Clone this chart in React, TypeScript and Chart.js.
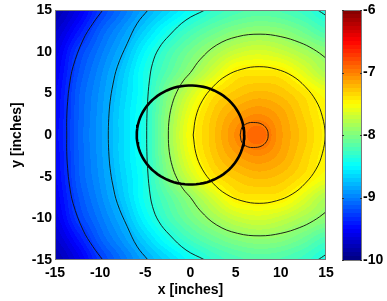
import React, { useEffect, useRef } from "react";
import { Chart, registerables } from "chart.js";

Chart.register(...registerables);

// ---- field grid (log10 values), x across, y top to bottom ----
const gridX = [-15, -12.5, -10, -7.5, -5, -2.5, 0, 2.5, 5, 7.5, 10, 12.5, 15];
const gridY = [15, 12.5, 10, 7.5, 5, 2.5, 0, -2.5, -5, -7.5, -10, -12.5, -15];

const rowP150 = [-9.81, -9.6, -9.28, -9.05, -8.83, -8.65, -8.47, -8.31, -8.22, -8.17, -8.2, -8.28, -8.4];
const rowP125 = [-9.7, -9.44, -9.13, -8.91, -8.67, -8.43, -8.24, -8.1, -7.99, -7.94, -7.97, -8.08, -8.22];
const rowP100 = [-9.6, -9.27, -9.03, -8.8, -8.5, -8.25, -8.05, -7.87, -7.72, -7.66, -7.72, -7.84, -7.95];
const rowP075 = [-9.55, -9.2, -8.96, -8.71, -8.41, -8.16, -7.92, -7.67, -7.44, -7.41, -7.43, -7.61, -7.82];
const rowP050 = [-9.51, -9.15, -8.92, -8.67, -8.4, -8.01, -7.68, -7.41, -7.29, -7.23, -7.27, -7.39, -7.54];
const rowP025 = [-9.49, -9.14, -8.9, -8.64, -8.37, -7.94, -7.55, -7.3, -7.14, -7.06, -7.15, -7.32, -7.48];
const rowZero = [-9.47, -9.13, -8.89, -8.64, -8.37, -7.91, -7.5, -7.27, -7.05, -6.88, -7.11, -7.28, -7.46];
const rowM025 = [-9.49, -9.14, -8.9, -8.64, -8.37, -7.94, -7.55, -7.3, -7.14, -7.06, -7.15, -7.32, -7.48];
const rowM050 = [-9.51, -9.15, -8.92, -8.67, -8.4, -8.01, -7.68, -7.41, -7.29, -7.23, -7.27, -7.39, -7.54];
const rowM075 = [-9.55, -9.2, -8.96, -8.71, -8.41, -8.16, -7.92, -7.67, -7.44, -7.41, -7.43, -7.61, -7.82];
const rowM100 = [-9.6, -9.27, -9.03, -8.8, -8.5, -8.25, -8.05, -7.87, -7.72, -7.66, -7.72, -7.84, -7.95];
const rowM125 = [-9.7, -9.44, -9.13, -8.91, -8.67, -8.43, -8.24, -8.1, -7.99, -7.94, -7.97, -8.08, -8.22];
const rowM150 = [-9.81, -9.6, -9.28, -9.05, -8.83, -8.65, -8.47, -8.31, -8.22, -8.17, -8.2, -8.28, -8.4];

const fieldGrid = [rowP150, rowP125, rowP100, rowP075, rowP050, rowP025, rowZero, rowM025, rowM050, rowM075, rowM100, rowM125, rowM150];

// ---- colour scale ----
const colorbarMin = -10;
const colorbarMax = -6;
const axisMin = -15;
const axisMax = 15;

// ---- contour lines (x, y in inches) ----
const contourLevel1: number[][] = [[5.5, 0], [5.7, 0.9], [6.3, 1.4], [7.0, 1.5], [7.8, 1.35], [8.4, 0.8], [8.6, 0], [8.4, -0.8], [7.8, -1.35], [7.0, -1.5], [6.3, -1.4], [5.7, -0.9], [5.5, 0]];
const contourLevel2: number[][] = [[0.3, 0], [0.6, 2.2], [1.3, 4.1], [2.5, 5.8], [3.95, 7.1], [5.7, 7.9], [7.6, 8.2], [9.5, 7.9], [11.25, 7.1], [12.7, 5.8], [13.9, 4.1], [14.6, 2.2], [14.9, 0], [14.6, -2.2], [13.9, -4.1], [12.7, -5.8], [11.25, -7.1], [9.5, -7.9], [7.6, -8.2], [5.7, -7.9], [3.95, -7.1], [2.5, -5.8], [1.3, -4.1], [0.6, -2.2], [0.3, 0]];
const contourLevel3: number[][] = [[15.8, 8.4], [14.9, 9.3], [13.6, 10.3], [12.1, 11.1], [10.0, 11.8], [7.7, 12.1], [5.2, 11.8], [2.9, 10.8], [1.1, 9.1], [0, 7.5], [-0.8, 6.5], [-1.5, 5.2], [-2.0, 3.8], [-2.35, 2.0], [-2.45, 0], [-2.35, -2.0], [-2.0, -3.8], [-1.5, -5.2], [-0.8, -6.5], [0, -7.5], [1.1, -9.1], [2.9, -10.8], [5.2, -11.8], [7.7, -12.1], [10.0, -11.8], [12.1, -11.1], [13.6, -10.3], [14.9, -9.3], [15.8, -8.4]];
const contourLevel4: number[][] = [[2.2, 15.4], [1.6, 15], [-0.5, 13.8], [-2.3, 12.0], [-3.5, 10.4], [-4.2, 8.6], [-4.55, 6.5], [-4.75, 4.0], [-4.83, 2.0], [-4.85, 0], [-4.83, -2.0], [-4.75, -4.0], [-4.55, -6.5], [-4.2, -8.6], [-3.5, -10.4], [-2.3, -12.0], [-0.5, -13.8], [1.6, -15], [2.2, -15.4]];
const contourLevel4Top: number[][] = [[13.6, 15.3], [14.5, 14.7], [15.3, 14.1]];
const contourLevel4Bottom: number[][] = [[13.6, -15.3], [14.5, -14.7], [15.3, -14.1]];
const contourLevel5: number[][] = [[-4.4, 15.4], [-4.7, 15], [-5.9, 13.4], [-7.0, 11.0], [-8.1, 8.2], [-8.6, 6.0], [-8.9, 4.0], [-9.05, 2.0], [-9.1, 0], [-9.05, -2.0], [-8.9, -4.0], [-8.6, -6.0], [-8.1, -8.2], [-7.0, -11.0], [-5.9, -13.4], [-4.7, -15], [-4.4, -15.4]];
const contourLevel6: number[][] = [[-9.4, 15.4], [-9.7, 15], [-10.8, 13.4], [-11.9, 11.4], [-13.0, 8.2], [-13.4, 6.0], [-13.6, 4.0], [-13.7, 2.0], [-13.7, 0], [-13.7, -2.0], [-13.6, -4.0], [-13.4, -6.0], [-13.0, -8.2], [-11.9, -11.4], [-10.8, -13.4], [-9.7, -15], [-9.4, -15.4]];

const contours = [contourLevel1, contourLevel2, contourLevel3, contourLevel4, contourLevel4Top, contourLevel4Bottom, contourLevel5, contourLevel6];

// ---- thick circle ----
const circleCenter = [0, 0];
const circleRadius = 5.95;

function clamp(v: number, a: number, b: number) {
  return v < a ? a : v > b ? b : v;
}

function catmull(p0: number, p1: number, p2: number, p3: number, t: number) {
  return 0.5 * (2 * p1 + (-p0 + p2) * t + (2 * p0 - 5 * p1 + 4 * p2 - p3) * t * t + (-p0 + 3 * p1 - 3 * p2 + p3) * t * t * t);
}

function sampleField(x: number, y: number) {
  const nx = gridX.length;
  const ny = gridY.length;
  const dx = gridX[1] - gridX[0];
  const dy = gridY[1] - gridY[0];
  const u = clamp((x - gridX[0]) / dx, 0, nx - 1);
  const v = clamp((y - gridY[0]) / dy, 0, ny - 1);
  const i = Math.min(Math.floor(u), nx - 2);
  const j = Math.min(Math.floor(v), ny - 2);
  const tu = u - i;
  const tv = v - j;
  const ci = (k: number) => clamp(k, 0, nx - 1);
  const cj = (k: number) => clamp(k, 0, ny - 1);
  const rowAt = (jj: number) => {
    const row = fieldGrid[cj(jj)];
    return catmull(row[ci(i - 1)], row[ci(i)], row[ci(i + 1)], row[ci(i + 2)], tu);
  };
  return catmull(rowAt(j - 1), rowAt(j), rowAt(j + 1), rowAt(j + 2), tv);
}

function jet(t: number): [number, number, number] {
  const k = clamp(Math.floor(t * 64), 0, 63);
  const q = (k + 0.5) / 64;
  const r = clamp(1.5 - Math.abs(4 * q - 3), 0, 1);
  const g = clamp(1.5 - Math.abs(4 * q - 2), 0, 1);
  const b = clamp(1.5 - Math.abs(4 * q - 1), 0, 1);
  return [Math.round(r * 255), Math.round(g * 255), Math.round(b * 255)];
}

const heatmapPlugin = {
  id: "heatmap",
  beforeDatasetsDraw(chart: any) {
    const { ctx, chartArea, scales } = chart;
    const xs = scales.x;
    const ys = scales.y;
    const left = Math.round(chartArea.left);
    const top = Math.round(chartArea.top);
    const w = Math.round(chartArea.right) - left;
    const h = Math.round(chartArea.bottom) - top;
    const img = ctx.createImageData(w, h);
    const d = img.data;
    for (let j = 0; j < h; j++) {
      const yv = ys.getValueForPixel(top + j + 0.5);
      for (let i = 0; i < w; i++) {
        const xv = xs.getValueForPixel(left + i + 0.5);
        const val = sampleField(xv, yv);
        const [r, g, b] = jet((val - colorbarMin) / (colorbarMax - colorbarMin));
        const o = (j * w + i) * 4;
        d[o] = r;
        d[o + 1] = g;
        d[o + 2] = b;
        d[o + 3] = 255;
      }
    }
    ctx.putImageData(img, left, top);
  },
  afterDraw(chart: any) {
    const { ctx, chartArea, scales } = chart;
    ctx.save();
    ctx.strokeStyle = "#7a7a7a";
    ctx.lineWidth = 1;
    ctx.strokeRect(
      Math.round(chartArea.left) + 0.5,
      Math.round(chartArea.top) + 0.5,
      Math.round(chartArea.right - chartArea.left) - 1,
      Math.round(chartArea.bottom - chartArea.top) - 1
    );
    const cb = scales.cb;
    const bx0 = Math.round(cb.left) + 16;
    const bx1 = Math.round(cb.left) + 36;
    const by0 = Math.round(cb.getPixelForValue(colorbarMax));
    const by1 = Math.round(cb.getPixelForValue(colorbarMin)) + 1;
    for (let py = by0; py < by1; py++) {
      const val = cb.getValueForPixel(py + 0.5);
      const [r, g, b] = jet((val - colorbarMin) / (colorbarMax - colorbarMin));
      ctx.fillStyle = `rgb(${r},${g},${b})`;
      ctx.fillRect(bx0, py, bx1 - bx0, 1);
    }
    ctx.strokeStyle = "#7a7a7a";
    ctx.strokeRect(bx0 + 0.5, by0 + 0.5, bx1 - bx0 - 1, by1 - by0 - 1);
    ctx.strokeStyle = "#333";
    cb.ticks.forEach((t: any) => {
      const py = Math.round(cb.getPixelForValue(t.value)) + 0.5;
      ctx.beginPath();
      ctx.moveTo(bx0, py);
      ctx.lineTo(bx0 + 2, py);
      ctx.moveTo(bx1 - 2, py);
      ctx.lineTo(bx1, py);
      ctx.stroke();
    });
    ctx.restore();
  },
};

const tickFont = { family: "'Liberation Sans', Arial, sans-serif", size: 14, weight: "bold" as const };
const titleFont = { family: "'Liberation Sans', Arial, sans-serif", size: 14, weight: "bold" as const };

const noPad = (s: any) => {
  s.paddingTop = 0;
  s.paddingBottom = 0;
  s.paddingLeft = 0;
  s.paddingRight = 0;
};

export default function App() {
  const ref = useRef<HTMLCanvasElement>(null);
  useEffect(() => {
    if (!ref.current) return;
    const contourSets = contours.map((pts) => ({
      data: pts.map(([x, y]) => ({ x, y })),
      showLine: true,
      borderColor: "rgba(15,15,15,0.9)",
      borderWidth: 1,
      pointRadius: 0,
      tension: 0.4,
      fill: false,
    }));
    const circlePts: { x: number; y: number }[] = [];
    for (let a = 0; a <= 360; a += 4) {
      const r = (a * Math.PI) / 180;
      circlePts.push({ x: circleCenter[0] + circleRadius * Math.cos(r), y: circleCenter[1] + circleRadius * Math.sin(r) });
    }
    const circleSet = {
      data: circlePts,
      showLine: true,
      borderColor: "#000",
      borderWidth: 2.6,
      pointRadius: 0,
      tension: 0,
      fill: false,
    };
    const chart = new Chart(ref.current, {
      type: "scatter",
      data: { datasets: [...contourSets, circleSet] as any },
      options: {
        animation: false,
        responsive: true,
        maintainAspectRatio: false,
        layout: { padding: { top: 10, left: 0, right: 0, bottom: 0 } },
        plugins: { legend: { display: false }, tooltip: { enabled: false } },
        elements: { line: { capBezierPoints: false } },
        scales: {
          x: {
            type: "linear",
            position: "bottom",
            min: axisMin,
            max: axisMax,
            ticks: { stepSize: 5, color: "#000", font: tickFont, padding: 5, maxRotation: 0 },
            grid: { display: false, drawTicks: false },
            border: { display: false },
            title: { display: true, text: "x [inches]", color: "#000", font: titleFont, padding: { top: 0, bottom: 2 } },
            afterFit: (s: any) => {
              s.height = 41;
              noPad(s);
            },
          },
          y: {
            type: "linear",
            position: "left",
            min: axisMin,
            max: axisMax,
            ticks: { stepSize: 5, color: "#000", font: tickFont, padding: 3 },
            grid: { display: false, drawTicks: false },
            border: { display: false },
            title: { display: true, text: "y [inches]", color: "#000", font: titleFont, padding: { top: 9, bottom: 0 } },
            afterFit: (s: any) => {
              s.width = 55;
              noPad(s);
            },
          },
          cb: {
            type: "linear",
            position: "right",
            min: colorbarMin,
            max: colorbarMax,
            ticks: { stepSize: 1, color: "#000", font: tickFont, padding: 37 },
            grid: { display: false, drawTicks: false },
            border: { display: false },
            afterFit: (s: any) => {
              s.width = 61;
              noPad(s);
            },
          },
        },
      } as any,
      plugins: [heatmapPlugin],
    });
    return () => chart.destroy();
  }, []);
  return (
    <div style={{ position: "fixed", left: 0, top: 0, width: 387, height: 301, background: "#fff" }}>
      <canvas ref={ref} />
    </div>
  );
}
